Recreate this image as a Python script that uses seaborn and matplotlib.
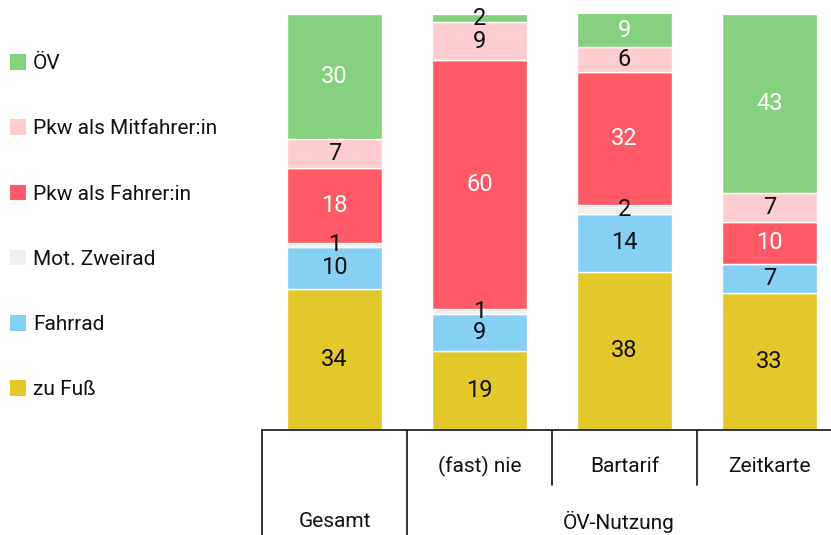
import matplotlib
matplotlib.use("Agg")
import matplotlib.pyplot as plt
import seaborn as sns
import numpy as np
import pandas as pd
from matplotlib.patches import Patch

# ---- data ----
categories = ["Gesamt", "(fast) nie", "Bartarif", "Zeitkarte"]
modes = ["zu Fuß", "Fahrrad", "Mot. Zweirad", "Pkw als Fahrer:in", "Pkw als Mitfahrer:in", "ÖV"]
zu_fuss = [34, 19, 38, 33]
fahrrad = [10, 9, 14, 7]
mot_zweirad = [1, 1, 2, 0]
pkw_fahrer = [18, 60, 32, 10]
pkw_mitfahrer = [7, 9, 6, 7]
oev = [30, 2, 9, 43]
group_labels = ["Gesamt", "ÖV-Nutzung"]

series = [zu_fuss, fahrrad, mot_zweirad, pkw_fahrer, pkw_mitfahrer, oev]
colors = ["#e3c72b", "#87d0f5", "#f1f0ee", "#ff5a66", "#ffccd0", "#85d17f"]
light_text = [False, False, False, True, False, True]

sns.set_theme(style="white")
plt.rcParams["font.family"] = ["Roboto", "DejaVu Sans"]

W, H = 831, 535
fig = plt.figure(figsize=(W / 100, H / 100), dpi=100)
ax = fig.add_axes([262 / W, 105 / H, 580 / W, 416 / H])

fs_num = 17
fs = 15
bottom = np.zeros(len(categories))
for vals, col, light in zip(series, colors, light_text):
    vals = np.array(vals, dtype=float)
    df = pd.DataFrame({"cat": categories, "val": vals})
    sns.barplot(data=df, x="cat", y="val", order=categories, color=col,
                bottom=bottom, width=0.66, edgecolor="white", linewidth=1.0,
                saturation=1, ax=ax, errorbar=None)
    cont = ax.containers[-1]
    labels = [f"{v:.0f}" if v > 0 else "" for v in vals]
    texts = ax.bar_label(cont, labels=labels, label_type="center", fontsize=fs_num)
    for t, v in zip(texts, vals):
        t.set_color("white" if (light and v >= 5) else "#111111")
    bottom = bottom + vals

ax.set_xlim(-0.5, 3.5)
ax.set_ylim(0, 100)
ax.set_xlabel("")
ax.set_ylabel("")
ax.set_xticks([])
ax.set_yticks([])
for s in ["left", "right", "top"]:
    ax.spines[s].set_visible(False)
ax.spines["bottom"].set_color("#111111")
ax.spines["bottom"].set_linewidth(1.2)

# table-like axis below
tr = ax.get_xaxis_transform()
ax.plot([-0.5, -0.5], [0, -0.26], transform=tr, color="#111111", lw=1.2, clip_on=False)
ax.plot([0.5, 0.5], [0, -0.26], transform=tr, color="#111111", lw=1.2, clip_on=False)
ax.plot([1.5, 1.5], [0, -0.132], transform=tr, color="#111111", lw=1.2, clip_on=False)
ax.plot([2.5, 2.5], [0, -0.132], transform=tr, color="#111111", lw=1.2, clip_on=False)
for i in range(1, 4):
    ax.text(i, -0.087, categories[i], transform=tr, ha="center", va="center",
            fontsize=fs, color="#111111")
ax.text(0, -0.221, group_labels[0], transform=tr, ha="center", va="center",
        fontsize=fs, color="#111111")
ax.text(1.96, -0.221, group_labels[1], transform=tr, ha="center", va="center",
        fontsize=fs, color="#111111")

# legend (top to bottom: ÖV ... zu Fuß)
handles = [Patch(facecolor=c, edgecolor="none") for c in colors[::-1]]
fig.legend(handles, modes[::-1], loc="upper left",
           bbox_to_anchor=(10 / W, (H - 54) / H), frameon=False,
           fontsize=fs, handlelength=0.77, handleheight=0.77,
           handletextpad=0.34, labelspacing=2.22, borderpad=0, borderaxespad=0,
           labelcolor="#111111")

fig.savefig("out.png", dpi=100)
